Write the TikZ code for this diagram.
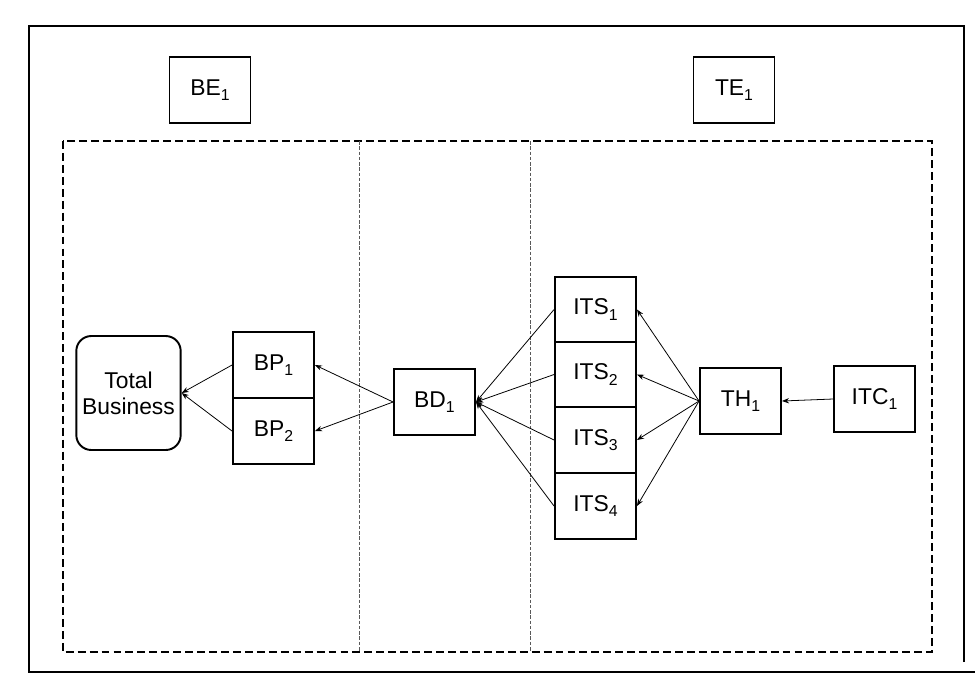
\documentclass[tikz,border=0pt]{standalone}
\usepackage{fontspec}
\setmainfont{Liberation Sans}
\usetikzlibrary{arrows.meta}
\newcommand{\idx}[1]{\raisebox{-0.45ex}{\fontsize{9}{9}\selectfont #1}}

\begin{document}
\begin{tikzpicture}[x=0.02cm, y=-0.02cm, font=\fontsize{13}{15}\selectfont,
  box/.style={draw, line width=1.1pt, minimum width=1.62cm, minimum height=1.31cm, inner sep=0pt},
  link/.style={-{Stealth[length=4pt,width=3pt]}, line width=0.45pt},
  zone/.style={line width=1.2pt, dash pattern=on 4.5pt off 2.3pt},
  split/.style={gray!70!black, line width=0.45pt, dash pattern=on 2pt off 1pt}]
  \useasboundingbox (0,0) rectangle (980,691);

  % Outer frame and the dashed enterprise zone
  \draw[line width=1.2pt] (964,662) -- (964,26) -- (29,26) -- (29,672) -- (975,672);
  \draw[zone] (63,141) rectangle (932,652);
  \draw[split] (359,141) -- (359,652);
  \draw[split] (530,141) -- (530,652);

  % Enterprise labels
  \node[box] (be) at (210,90) {BE\idx{1}};
  \node[box] (te) at (734,90) {TE\idx{1}};

  % Business side
  \node[draw, line width=1.1pt, rounded corners=0.3cm, minimum width=2.06cm,
        minimum height=2.28cm, align=center] (tb) at (128.5,393) {Total\\Business};
  \node[box] (bp1) at (273.5,365) {BP\idx{1}};
  \node[box] (bp2) at (273.5,431) {BP\idx{2}};
  \node[box] (bd) at (434.5,402) {BD\idx{1}};

  % Technology side
  \node[box] (th) at (740.5,401) {TH\idx{1}};
  \node[box] (itc) at (874.5,399) {ITC\idx{1}};
  \foreach \i/\y in {1/309.5, 2/374.5, 3/440, 4/506} {
    \node[box] (its\i) at (595.5,\y) {ITS\idx{\i}};
    \draw[link] (its\i.west) -- (bd.east);
    \draw[link] (th.west) -- (its\i.east);
  }

  % Remaining links
  \draw[link] (itc.west) -- (th.east);
  \draw[link] (bd.west) -- (bp1.east);
  \draw[link] (bd.west) -- (bp2.east);
  \draw[link] (bp1.west) -- (tb.east);
  \draw[link] (bp2.west) -- (tb.east);
\end{tikzpicture}
\end{document}
